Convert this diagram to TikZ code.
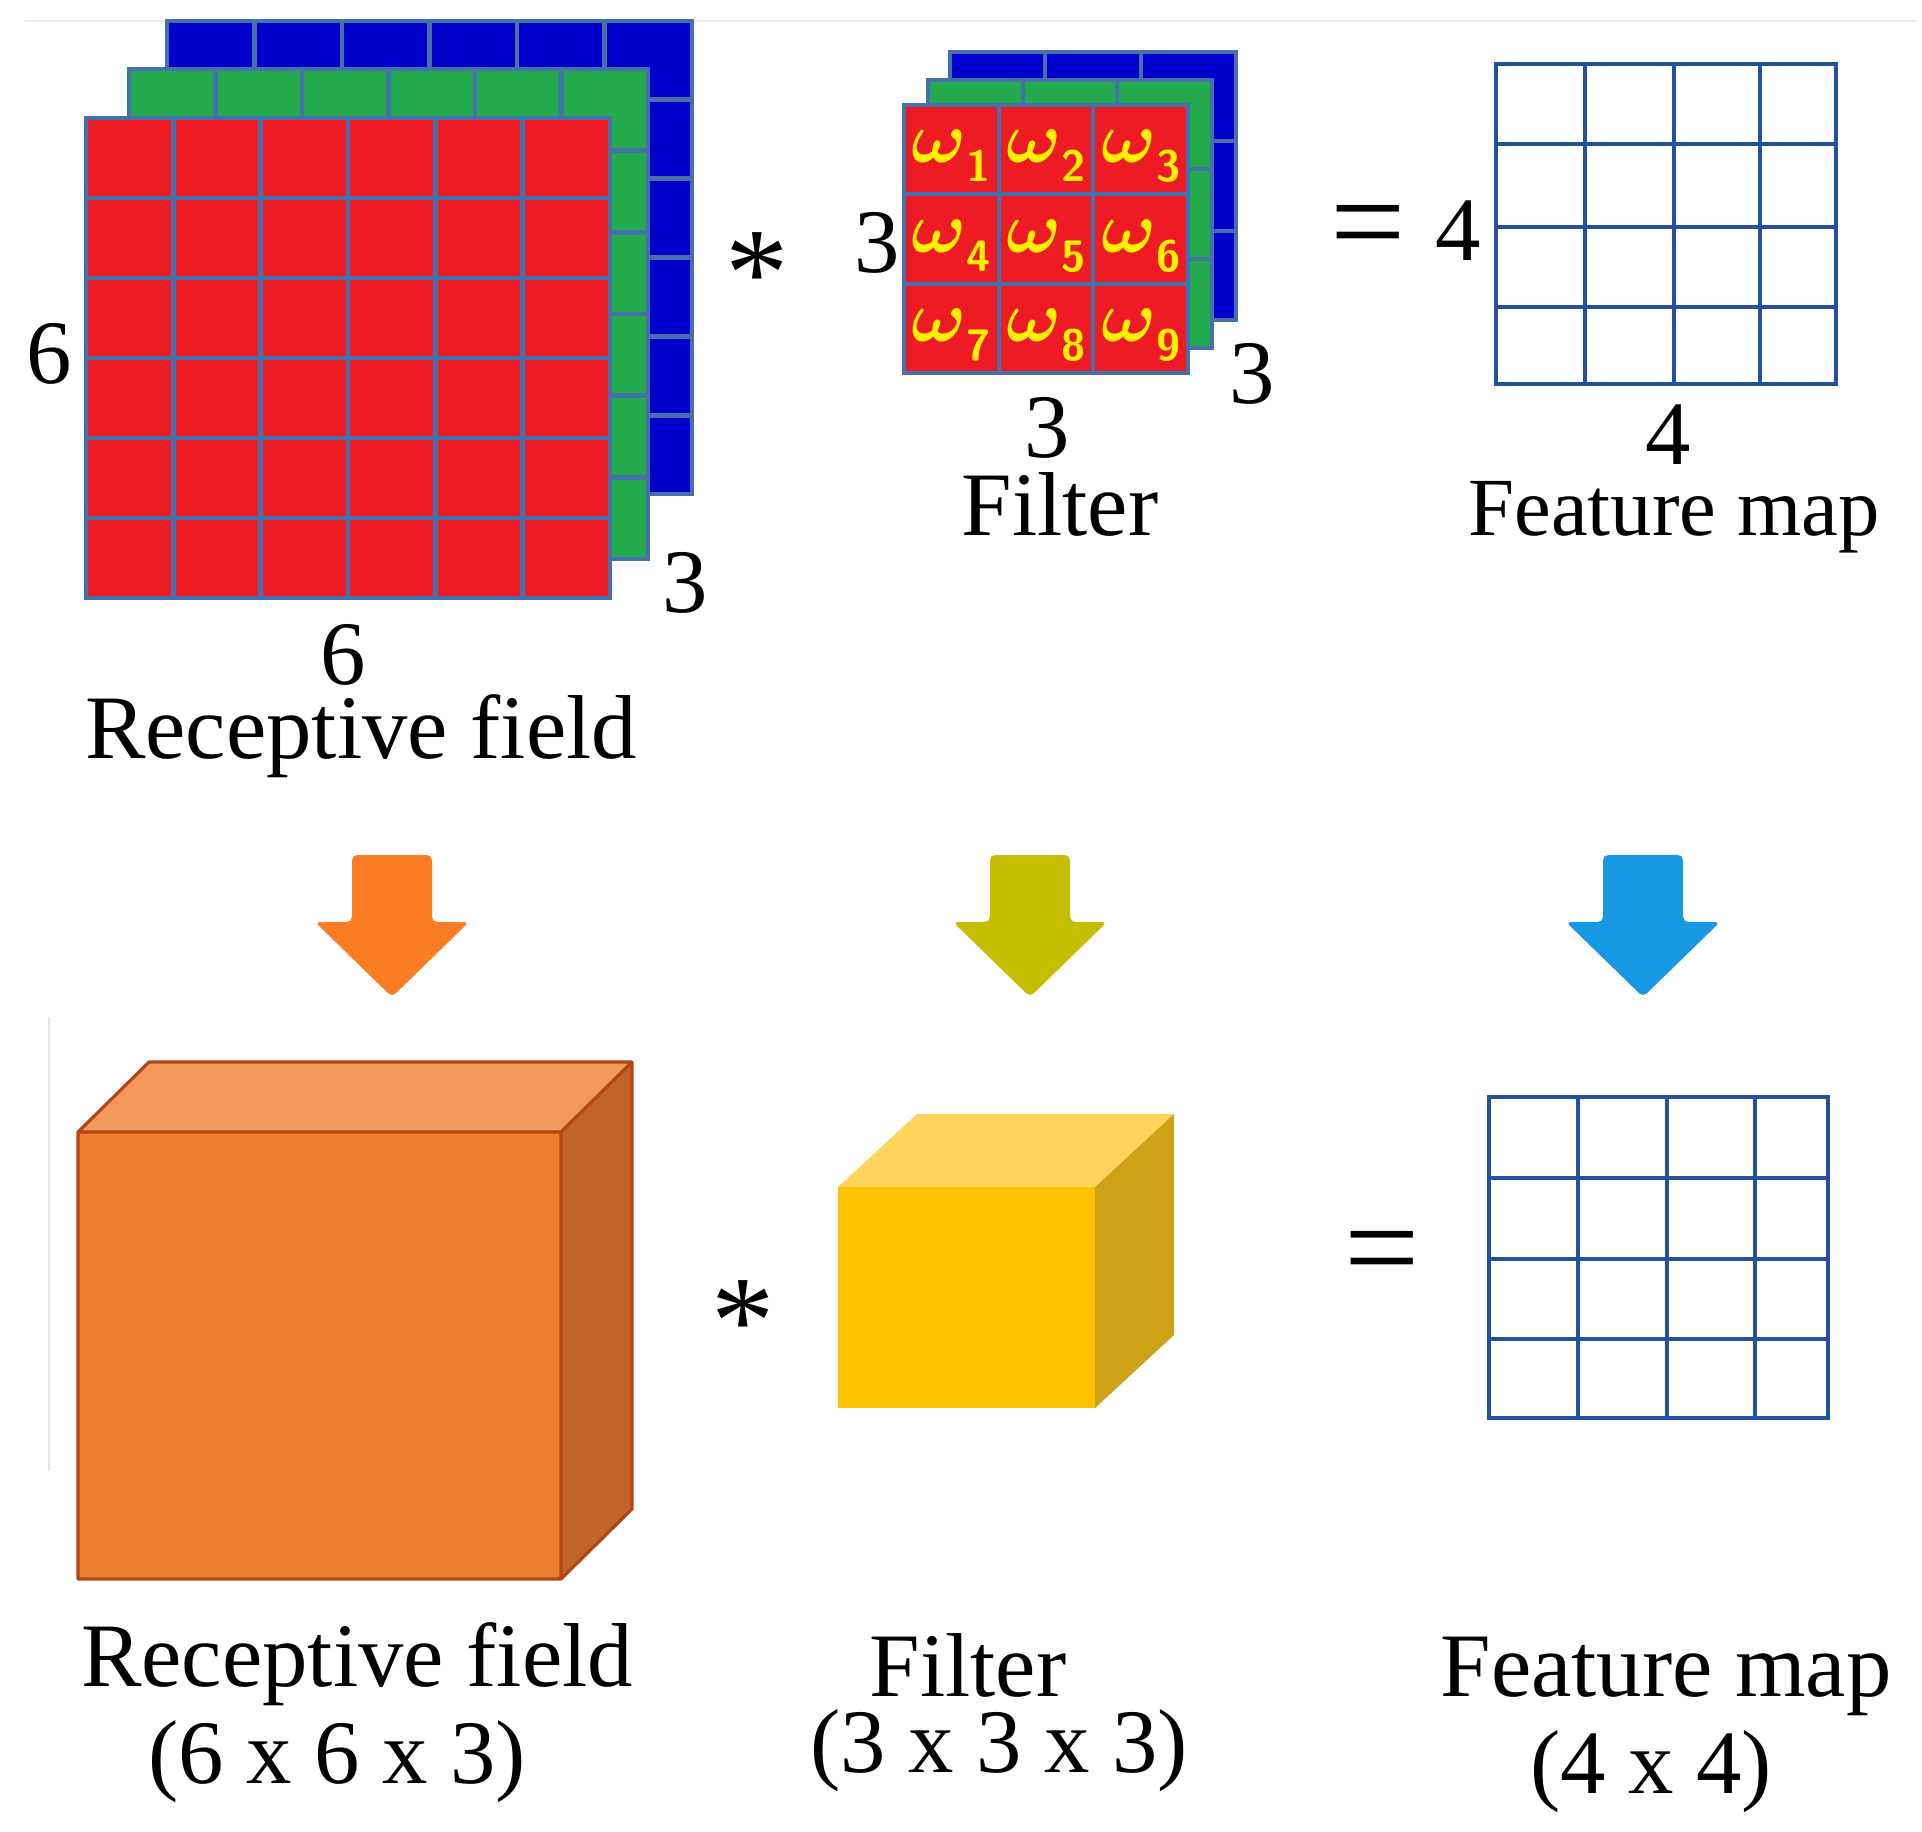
\documentclass[tikz,border=0pt]{standalone}
\usepackage{fontspec}
\setmainfont{Liberation Serif}
\definecolor{cellred}{RGB}{237,28,36}
\definecolor{cellgreen}{RGB}{34,170,76}
\definecolor{cellblue}{RGB}{0,0,205}
\definecolor{gridblue}{RGB}{70,112,172}
\definecolor{mapblue}{RGB}{35,80,160}
\definecolor{wyellow}{RGB}{255,240,0}
\definecolor{boxfront}{RGB}{237,125,49}
\definecolor{boxtop}{RGB}{241,152,92}
\definecolor{boxside}{RGB}{193,100,40}
\definecolor{boxedge}{RGB}{178,70,20}
\definecolor{cubefront}{RGB}{255,194,0}
\definecolor{cubetop}{RGB}{255,212,92}
\definecolor{cubeside}{RGB}{205,162,22}
\definecolor{arroworange}{RGB}{250,125,35}
\definecolor{arrowolive}{RGB}{198,189,0}
\definecolor{arrowblue}{RGB}{22,152,226}
\tikzset{
  lbl/.style={inner sep=0pt, anchor=base, font=\fontsize{25.8}{31}\selectfont},
  cellline/.style={draw=gridblue, line width=1.4pt},
  mapline/.style={draw=mapblue, line width=1pt},
  wlbl/.style={inner sep=0pt, anchor=base, text=wyellow, font=\fontsize{22}{24}\selectfont\boldmath},
}
\begin{document}
\begin{tikzpicture}[x=0.01cm, y=-0.01cm]
\useasboundingbox (0,0) rectangle (1922,1831);
\draw[black!8, line width=0.6pt] (25,21) -- (1916,21);
\draw[black!10, line width=0.6pt] (49,1017) -- (49,1471);
\begin{scope}
\foreach \xa/\ya/\xb/\yb/\c in {167/21/692/494/cellblue, 129/69/648/559/cellgreen, 86/118/610/598/cellred}{
  \fill[\c] (\xa,\ya) rectangle (\xb,\yb);
  \foreach \k in {1,...,5}{
    \draw[cellline] ({\xa+\k*(\xb-\xa)/6},\ya) -- ({\xa+\k*(\xb-\xa)/6},\yb);
    \draw[cellline] (\xa,{\ya+\k*(\yb-\ya)/6}) -- (\xb,{\ya+\k*(\yb-\ya)/6});
  }
  \draw[cellline] (\xa,\ya) rectangle (\xb,\yb);
}
\end{scope}
\begin{scope}[cellline/.append style={line width=1.1pt}]
\foreach \xa/\ya/\xb/\yb/\c in {950/52/1236/320/cellblue, 928/80/1212/348/cellgreen, 904/105/1188/373/cellred}{
  \fill[\c] (\xa,\ya) rectangle (\xb,\yb);
  \foreach \k in {1,2}{
    \draw[cellline] ({\xa+\k*(\xb-\xa)/3},\ya) -- ({\xa+\k*(\xb-\xa)/3},\yb);
    \draw[cellline] (\xa,{\ya+\k*(\yb-\ya)/3}) -- (\xb,{\ya+\k*(\yb-\ya)/3});
  }
  \draw[cellline] (\xa,\ya) rectangle (\xb,\yb);
}
\foreach \n in {1,...,9}{
  \pgfmathtruncatemacro\col{mod(\n-1,3)}
  \pgfmathtruncatemacro\row{div(\n-1,3)}
  \node[wlbl] (w\n) at ({904+(\col+0.5)*94.67},{105+\row*89.33+58})
    {$\omega$\raisebox{-5.4pt}{\fontsize{12.5}{13}\selectfont\sffamily\bfseries\n}};
}
\end{scope}
\draw[mapline] (1496,64) rectangle (1836,384);
\foreach \x in {1585,1674,1760} \draw[mapline] (\x,64) -- (\x,384);
\foreach \y in {144,227,307} \draw[mapline] (1496,\y) -- (1836,\y);
\node[lbl] (rows) at (49,384) {6};
\node[lbl] (cols) at (343,684) {6};
\node[lbl] (depth) at (685,612) {3};
\node[lbl] (rfield) at (361,758) {Receptive field};
\node[lbl, font=\fontsize{36}{40}\selectfont] (conv) at (757,316) {*};
\node[lbl] (frows) at (877,273) {3};
\node[lbl] (fcols) at (1047,458) {3};
\node[lbl] (fdepth) at (1252,404) {3};
\node[lbl] (filt) at (1060,536) {Filter};
\node[lbl, font=\fontsize{38}{40}\selectfont] (eq) at (1368,267) {=};
\node[lbl] (mrows) at (1458,261) {4};
\node[lbl] (mcols) at (1668,465) {4};
\node[lbl, font=\fontsize{23.5}{28}\selectfont] (fmap) at (1674,536) {Feature map};
\foreach \cx/\c in {392/arroworange, 1030/arrowolive, 1643/arrowblue}
  \fill[\c, rounded corners=1.5pt] ({\cx-40},855) -- ({\cx+40},855) -- ({\cx+40},922) -- ({\cx+77},922)
    -- (\cx,997) -- ({\cx-77},922) -- ({\cx-40},922) -- cycle;
\fill[boxtop] (78,1132) -- (149,1062) -- (632,1062) -- (561,1132) -- cycle;
\fill[boxside] (561,1132) -- (632,1062) -- (632,1509) -- (561,1579) -- cycle;
\fill[boxfront] (78,1132) rectangle (561,1579);
\draw[boxedge, line width=0.9pt, line join=round] (78,1132) -- (149,1062) -- (632,1062) -- (632,1509)
  -- (561,1579) -- (78,1579) -- cycle (78,1132) -- (561,1132) -- (632,1062) (561,1132) -- (561,1579);
\fill[cubetop] (838,1187) -- (917,1114) -- (1174,1114) -- (1095,1187) -- cycle;
\fill[cubeside] (1095,1187) -- (1174,1114) -- (1174,1335) -- (1095,1408) -- cycle;
\fill[cubefront] (838,1187) rectangle (1095,1408);
\draw[mapline] (1489,1097) rectangle (1828,1418);
\foreach \x in {1578,1667,1755} \draw[mapline] (\x,1097) -- (\x,1418);
\foreach \y in {1178,1259,1339} \draw[mapline] (1489,\y) -- (1828,\y);
\node[lbl, font=\fontsize{36}{40}\selectfont] (conv3d) at (743,1363) {*};
\node[lbl, font=\fontsize{38}{40}\selectfont] (eq3d) at (1382,1292) {=};
\node[lbl] (rfield3d) at (357,1686) {Receptive field};
\node[lbl] (rsize) at (337,1783) {(6 x 6 x 3)};
\node[lbl] (filt3d) at (968,1696) {Filter};
\node[lbl] (fsize) at (999,1772) {(3 x 3 x 3)};
\node[lbl] (fmap3d) at (1666,1696) {Feature map};
\node[lbl] (msize) at (1651,1793) {(4 x 4)};
\end{tikzpicture}
\end{document}
